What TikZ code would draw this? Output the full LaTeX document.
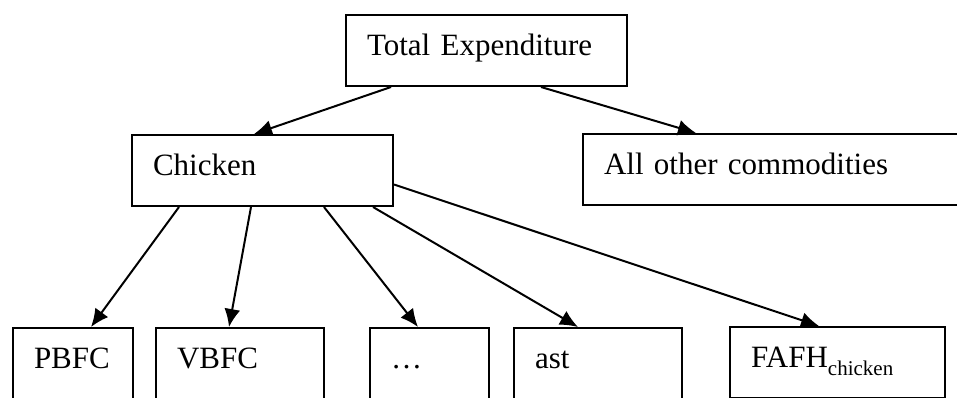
\documentclass[tikz,border=0pt]{standalone}
\usepackage{fontspec}
\setmainfont{Liberation Serif}
\usetikzlibrary{arrows.meta}

\tikzset{
    box/.style={draw, line width=1pt, anchor=north west, align=left,
        inner xsep=10.5pt, inner ysep=0pt, text height=20pt, text depth=15.5pt,
        font=\fontsize{15.5}{18}\selectfont},
    link/.style={line width=1pt, -{Latex[length=9pt,width=8pt]}}
}

\begin{document}
\begin{tikzpicture}[x=0.5pt, y=-0.5pt]

    \useasboundingbox (0,0) rectangle (957,397);

    % Top level and the two groups
    \node[box, text width=119.5pt] (total) at (345,14) {Total Expenditure};
    \node[box, text width=109.5pt] (chicken) at (131,134) {Chicken};
    \node[box, text width=169pt] (other) at (582,133) {All other commodities};

    % Chicken products
    \node[box, text width=39pt] (pbfc) at (12,327) {PBFC};
    \node[box, text width=63pt] (vbfc) at (155,327) {VBFC};
    \node[box, text width=38.5pt] (dots) at (369,327) {\dots};
    \node[box, text width=63pt] (ast) at (513,327) {ast};
    \node[box, text width=86.5pt] (fafh) at (729,326)
        {FAFH\raisebox{-0.28em}{\fontsize{10.5}{12}\selectfont chicken}};

    % Arrows from the top
    \draw[link] ([xshift=-47.75pt]total.south) -- ([xshift=-4.25pt]chicken.north);
    \draw[link] ([xshift=27.25pt]total.south) -- ([xshift=-38.5pt]other.north);

    % Arrows from chicken
    \draw[link] ([xshift=-41.75pt]chicken.south) -- ([xshift=9pt]pbfc.north);
    \draw[link] ([xshift=-5.75pt]chicken.south) -- ([xshift=-5.5pt]vbfc.north);
    \draw[link] ([xshift=30.75pt]chicken.south) -- ([xshift=-5.75pt]dots.north);
    \draw[link] ([xshift=55.25pt]chicken.south) -- ([xshift=-10pt]ast.north);
    \draw[link] ([yshift=-7pt]chicken.east) -- ([xshift=-9.25pt]fafh.north);

\end{tikzpicture}
\end{document}
